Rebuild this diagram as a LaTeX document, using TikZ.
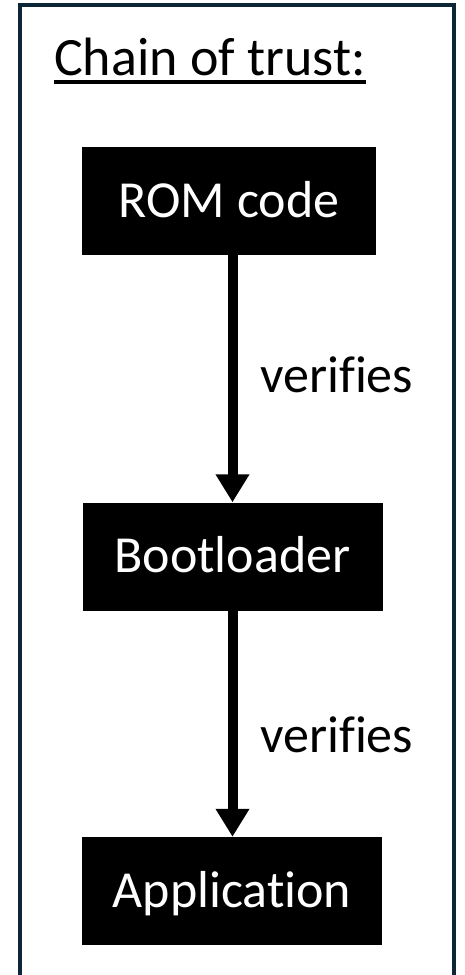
\documentclass[tikz,border=0pt]{standalone}
\usepackage{fontspec}
\setmainfont{Carlito}[Ligatures={NoCommon,NoDiscretionary,NoRare}]
\usepackage{tikz}
\usetikzlibrary{arrows.meta,positioning,calc}
\definecolor{framenavy}{HTML}{0C2638}

\begin{document}
\begin{tikzpicture}[
      x=1pt,y=-1pt,
      stage/.style={rectangle,fill=black,text=white,inner sep=0pt,
        minimum width=300pt,minimum height=108pt,
        text height=36pt,text depth=4pt,
        font=\fontsize{52}{62}\selectfont},
      lbl/.style={anchor=base west,inner sep=0pt,
        font=\fontsize{52}{62}\selectfont},
      flow/.style={-{Triangle[width=32pt,length=28pt]},line width=10pt,draw=black},
      >=Latex
    ]

    \useasboundingbox (0,0) rectangle (464,975);

    % Frame
    \draw[framenavy,line width=4pt] (20,1000) -- (20,5) -- (454,5) -- (454,1000);

    % Title
    \node[lbl,font=\fontsize{54}{64}\selectfont] (title) at (54,75) {Chain of trust:};
    \draw[line width=4pt] ([yshift=-7pt]title.base west) -- ([yshift=-7pt]title.base east);

    % Stages
    \node[stage,minimum width=294pt] (rom) at (229,201) {ROM code};
    \node[stage] (boot) at (232.5,556.5) {Bootloader};
    \node[stage] (app) at (232,891) {Application};

    \draw[flow] (rom.south -| boot.north) -- (boot.north);
    \draw[flow] (boot.south) -- (app.north -| boot.south);

    % Annotation
    \node[lbl] (verA) at (260,392) {verifies};
    \node[lbl] (verB) at (260,752) {verifies};

  \end{tikzpicture}
\end{document}
